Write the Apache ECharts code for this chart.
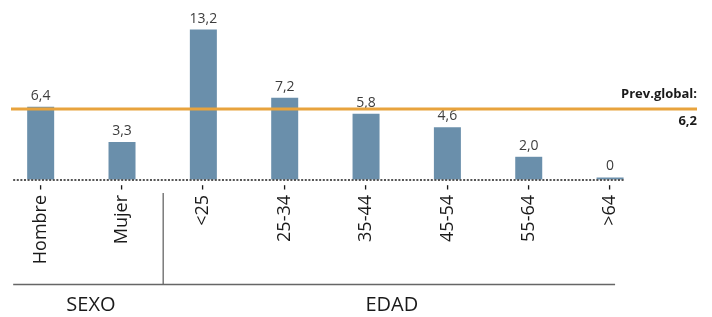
<!DOCTYPE html>
<html><head><meta charset="utf-8">
<script src="https://cdn.jsdelivr.net/npm/echarts@6/dist/echarts.min.js"></script>
<style>html,body{margin:0;padding:0;background:#fff}#c{width:712px;height:317px}</style>
</head><body><div id="c"></div>
<script>
// ---- data ----
const categories = ['Hombre', 'Mujer', '<25', '25-34', '35-44', '45-54', '55-64', '>64'];
const values = [6.4, 3.3, 13.2, 7.2, 5.8, 4.6, 2.0, 0];
const globalPrev = 6.2;
const globalPrevTitle = 'Prev.global:';
const groupNames = ['SEXO', 'EDAD'];
const groupStarts = [0, 2];   // first category index of each group
const groupEnds = [1, 7];     // last category index of each group

const FONT = '"Open Sans", "Noto Sans", sans-serif';
const fmt = v => (v === 0 ? '0' : v.toFixed(1).replace('.', ','));

const chart = echarts.init(document.getElementById('c'), null, { renderer: 'canvas' });
chart.setOption({
  animation: false,
  grid: { left: -1.25, width: 652, top: 20.5, bottom: 137.5, containLabel: false },
  xAxis: {
    type: 'category', data: categories,
    axisLine: { show: false }, axisTick: { show: false }, splitLine: { show: false },
    axisLabel: {
      rotate: 90, interval: 0, margin: 5, fontFamily: FONT, fontSize: 18, color: '#1a1a1a',
      formatter: v => v + ' -'
    }
  },
  yAxis: { type: 'value', min: 0, max: 14, show: false },
  series: [{
    type: 'bar', data: values, barWidth: 27, barMinHeight: 2,
    itemStyle: { color: '#6a8fab' },
    label: {
      show: true, position: 'top', distance: 4, fontFamily: FONT, fontSize: 14, color: '#3d3d3d',
      formatter: p => fmt(p.value)
    }
  }]
});

// ---- decorations positioned through the chart's own scales ----
const y0 = chart.convertToPixel({ yAxisIndex: 0 }, 0);
const yG = chart.convertToPixel({ yAxisIndex: 0 }, globalPrev);
const xs = categories.map((c, i) => chart.convertToPixel({ xAxisIndex: 0 }, i));
const band = xs[1] - xs[0];
const leftEdge = xs[0] - 27.5;
const lastBarRight = xs[xs.length - 1] + 13.5;
const bottomLineY = 284.5;
const sepXs = [(xs[1] + xs[2]) / 2];
const groupBounds = [leftEdge, sepXs[0], xs[xs.length - 1] + 5];

const g = [];
// dotted baseline
g.push({ type: 'line', z: 10, shape: { x1: leftEdge, y1: y0 + 0.5, x2: lastBarRight, y2: y0 + 0.5 },
  style: { stroke: '#555', lineWidth: 2, lineDash: [2, 1.6] } });
// global prevalence line
g.push({ type: 'line', z: 20, shape: { x1: 11, y1: yG, x2: 697, y2: yG },
  style: { stroke: '#e8a33d', lineWidth: 3 } });
g.push({ type: 'text', z: 20, style: { x: 697, y: yG - 15, text: globalPrevTitle, align: 'right', verticalAlign: 'middle',
  font: 'bold 13px ' + FONT, fill: '#1a1a1a' } });
g.push({ type: 'text', z: 20, style: { x: 697, y: yG + 12.5, text: fmt(globalPrev), align: 'right', verticalAlign: 'middle',
  font: 'bold 13px ' + FONT, fill: '#1a1a1a' } });
// group separator and bottom line
sepXs.forEach(x => g.push({ type: 'line', shape: { x1: x + 0.5, y1: 193, x2: x + 0.5, y2: bottomLineY },
  style: { stroke: '#666', lineWidth: 1.3 } }));
g.push({ type: 'line', shape: { x1: leftEdge, y1: bottomLineY, x2: groupBounds[2], y2: bottomLineY },
  style: { stroke: '#666', lineWidth: 1.3 } });
groupNames.forEach((name, i) => {
  const cx = (groupBounds[i] + groupBounds[i + 1]) / 2 + 3;
  g.push({ type: 'text', style: { x: cx, y: 305, text: name, align: 'center', verticalAlign: 'middle',
    font: '20px ' + FONT, fill: '#1a1a1a' } });
});
chart.setOption({ graphic: g });
</script>
</body></html>
